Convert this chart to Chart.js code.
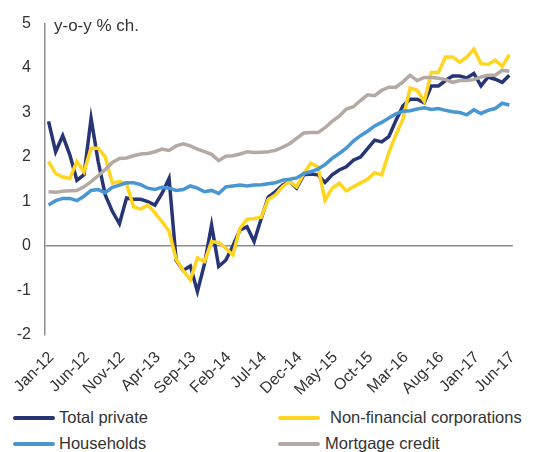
<!DOCTYPE html>
<html>
<head>
<meta charset="utf-8">
<script src="https://cdn.jsdelivr.net/npm/chart.js@4.4.1/dist/chart.umd.min.js"></script>
<style>
  body { margin: 0; background: #fff; }
  #wrap { position: relative; width: 536px; height: 452px; font-family: "Liberation Sans", Arial, sans-serif; color: #333; }
  #unit { position: absolute; left: 54px; top: 16px; font-size: 17px; line-height: 20px; }
  .leg { position: absolute; font-size: 16.5px; line-height: 20px; white-space: nowrap; }
  .leg span { display: inline-block; width: 42px; height: 4px; border-radius: 2px; vertical-align: middle; position: relative; top: -1px; }
</style>
</head>
<body>
<div id="wrap">
  <canvas id="chart" width="536" height="400"></canvas>
  <div id="unit">y-o-y % ch.</div>
  <div id="legend"></div>
</div>
<script>
const months = [
  "Jan-12","Feb-12","Mar-12","Apr-12","May-12","Jun-12","Jul-12","Aug-12","Sep-12","Oct-12","Nov-12","Dec-12",
  "Jan-13","Feb-13","Mar-13","Apr-13","May-13","Jun-13","Jul-13","Aug-13","Sep-13","Oct-13","Nov-13","Dec-13",
  "Jan-14","Feb-14","Mar-14","Apr-14","May-14","Jun-14","Jul-14","Aug-14","Sep-14","Oct-14","Nov-14","Dec-14",
  "Jan-15","Feb-15","Mar-15","Apr-15","May-15","Jun-15","Jul-15","Aug-15","Sep-15","Oct-15","Nov-15","Dec-15",
  "Jan-16","Feb-16","Mar-16","Apr-16","May-16","Jun-16","Jul-16","Aug-16","Sep-16","Oct-16","Nov-16","Dec-16",
  "Jan-17","Feb-17","Mar-17","Apr-17","May-17","Jun-17"
];

const totalPrivate = [2.8,2.12,2.48,2.05,1.48,1.6,2.87,1.9,1.15,0.78,0.5,1.08,1.05,1.05,1.0,0.92,1.18,1.52,
  -0.32,-0.55,-0.45,-1.02,-0.4,0.47,-0.46,-0.32,0.0,0.36,0.43,0.1,0.62,1.1,1.22,1.37,1.45,1.3,1.6,1.62,1.6,1.43,
  1.6,1.71,1.78,1.93,2.0,2.19,2.38,2.34,2.46,2.82,3.15,3.3,3.3,3.22,3.6,3.6,3.72,3.82,3.82,3.78,3.88,3.6,3.8,3.75,3.68,3.84];

const nonFinancial = [1.9,1.63,1.55,1.52,1.9,1.67,2.2,2.2,2.0,1.42,1.45,1.4,0.88,0.83,0.92,0.75,0.55,0.33,
  -0.3,-0.55,-0.76,-0.27,-0.35,0.1,0.08,-0.05,-0.2,0.4,0.6,0.62,0.65,1.05,1.15,1.33,1.45,1.33,1.63,1.86,1.78,1.03,
  1.3,1.41,1.24,1.33,1.42,1.5,1.65,1.6,2.1,2.5,2.85,3.55,3.5,3.25,3.9,3.9,4.25,4.25,4.13,4.25,4.42,4.1,4.08,4.18,4.04,4.3];

const households = [0.92,1.02,1.07,1.07,1.02,1.12,1.25,1.27,1.2,1.32,1.37,1.42,1.42,1.38,1.3,1.27,1.32,1.3,
  1.25,1.27,1.35,1.3,1.22,1.25,1.18,1.33,1.35,1.37,1.35,1.37,1.38,1.4,1.42,1.48,1.5,1.53,1.63,1.67,1.73,1.83,
  1.97,2.08,2.2,2.36,2.48,2.58,2.7,2.78,2.88,2.97,3.03,3.04,3.08,3.11,3.07,3.09,3.05,3.02,3.0,2.95,3.06,2.98,3.05,3.09,3.21,3.17];

const mortgage = [1.22,1.21,1.23,1.24,1.25,1.33,1.45,1.58,1.72,1.88,1.97,1.98,2.03,2.07,2.08,2.12,2.18,2.15,
  2.25,2.3,2.25,2.18,2.12,2.06,1.92,2.02,2.03,2.07,2.12,2.1,2.11,2.12,2.15,2.22,2.3,2.42,2.54,2.55,2.55,2.66,
  2.8,2.92,3.08,3.13,3.27,3.4,3.38,3.5,3.57,3.57,3.69,3.84,3.72,3.79,3.79,3.77,3.74,3.68,3.72,3.72,3.74,3.8,3.84,3.84,3.95,3.93];

const yTicks = [-2, -1, 0, 1, 2, 3, 4, 5];

const series = [
  {label: "Total private", data: totalPrivate, color: "#283574", order: 4},
  {label: "Non-financial corporations", data: nonFinancial, color: "#FFD51F", order: 3},
  {label: "Households", data: households, color: "#4896D2", order: 2},
  {label: "Mortgage credit", data: mortgage, color: "#B5A9A3", order: 1}
];

// legend in two columns, like the original
const legendPos = [[13, 407], [278, 407], [13, 433], [278, 433]];
const legendTextX = [59, 330, 59, 325];
const legendEl = document.getElementById("legend");
series.forEach((s, i) => {
  const d = document.createElement("div");
  d.className = "leg";
  d.style.left = legendPos[i][0] + "px";
  d.style.top = legendPos[i][1] + "px";
  d.innerHTML = '<span style="background:' + s.color + ';margin-right:' + (legendTextX[i] - legendPos[i][0] - 42) + 'px"></span>' + s.label;
  legendEl.appendChild(d);
});

const axisColor = "#8c8c8c";
const font = {family: '"Liberation Sans", Arial, sans-serif', size: 16};

new Chart(document.getElementById("chart"), {
  type: "line",
  data: {
    labels: months,
    datasets: series.map(s => ({
      label: s.label,
      data: s.data,
      borderColor: s.color,
      backgroundColor: s.color,
      borderWidth: 3.5,
      pointRadius: 0,
      tension: 0,
      fill: false,
      order: s.order
    }))
  },
  options: {
    responsive: false,
    animation: false,
    layout: {padding: {top: 23, right: 13, left: 0, bottom: 0}},
    plugins: {legend: {display: false}, tooltip: {enabled: false}},
    scales: {
      x: {
        type: "category",
        offset: true,
        grid: {display: false, drawTicks: false},
        border: {display: false},
        afterFit: scale => { scale.height = 65; },
        ticks: {
          autoSkip: false,
          maxRotation: 45,
          minRotation: 45,
          padding: 13,
          labelOffset: 3,
          color: "#333",
          font: font,
          callback: function (value, index) {
            return index % 5 === 0 ? months[index] : "";
          }
        }
      },
      y: {
        min: yTicks[0],
        max: yTicks[yTicks.length - 1],
        afterFit: scale => { scale.width = 45; },
        afterBuildTicks: scale => { scale.ticks = yTicks.map(v => ({value: v})); },
        grid: {
          drawTicks: false,
          lineWidth: 1.5,
          color: ctx => (ctx.tick && ctx.tick.value === 0 ? axisColor : "rgba(0,0,0,0)")
        },
        border: {display: true, color: axisColor, width: 1.5},
        ticks: {padding: 14, color: "#333", font: font}
      }
    }
  }
});
</script>
</body>
</html>
